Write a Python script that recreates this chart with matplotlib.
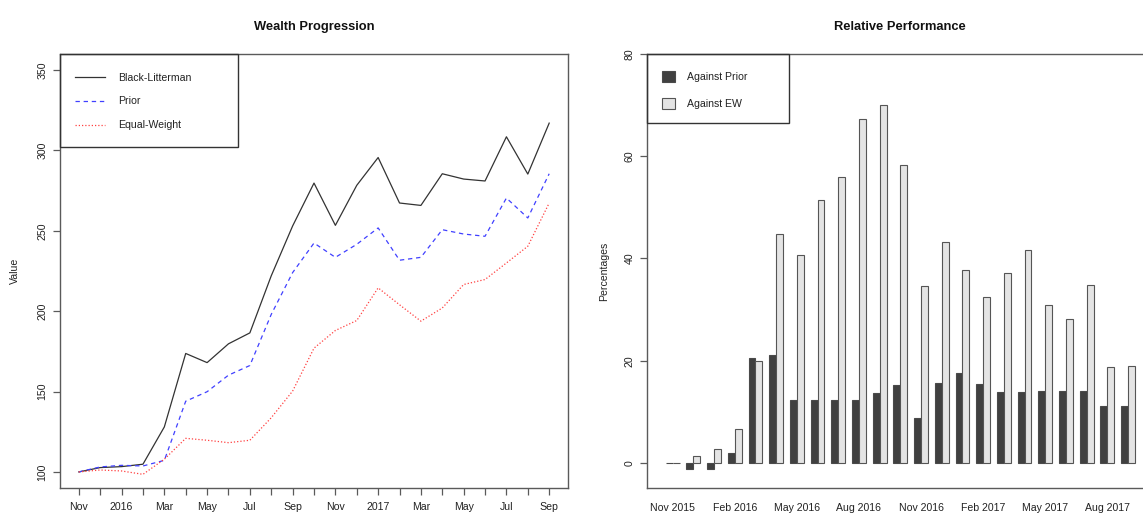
import numpy as np
import matplotlib
matplotlib.use('Agg')
import matplotlib.pyplot as plt
from matplotlib.patches import Rectangle

plt.rcParams['font.family'] = ['Liberation Sans', 'DejaVu Sans']

# monthly wealth, Nov 2015 - Sep 2017
month_labels = ['Nov', '', '2016', '', 'Mar', '', 'May', '', 'Jul', '', 'Sep', '',
                'Nov', '', '2017', '', 'Mar', '', 'May', '', 'Jul', '', 'Sep']
black_litterman = [100, 102.7, 103.3, 104.8, 128, 173.7, 168, 179.7, 186.5, 222, 253,
                   279.7, 253.4, 278.3, 295.6, 267.3, 265.8, 285.5, 282.2, 281, 308.5, 285.3, 317]
prior = [100, 103.1, 104.1, 103.7, 107.2, 144, 149.9, 160.2, 166.2, 198, 224,
         242.4, 233.5, 241.6, 251.8, 231.7, 233.5, 250.7, 248, 246.6, 270.4, 258, 285.5]
equal_weight = [100, 101.2, 100.6, 98.5, 107.9, 120.9, 119.7, 118.2, 119.7, 133.7, 150.3,
                177, 188, 194.2, 214.5, 204, 193.8, 202, 216.6, 219.7, 230, 240.4, 267.3]

# relative performance (%)
bar_labels = ['Nov 2015', '', '', 'Feb 2016', '', '', 'May 2016', '', '', 'Aug 2016', '', '',
              'Nov 2016', '', '', 'Feb 2017', '', '', 'May 2017', '', '', 'Aug 2017', '']
against_prior = [0, -1.1, -1.1, 1.9, 20.5, 21.2, 12.3, 12.3, 12.3, 12.3, 13.6, 15.3,
                 8.8, 15.6, 17.5, 15.5, 13.8, 13.8, 14.0, 14.0, 14.0, 11.2, 11.1]
against_ew = [0, 1.4, 2.7, 6.7, 19.9, 44.8, 40.7, 51.5, 56.0, 67.2, 70.1, 58.3,
              34.6, 43.2, 37.7, 32.4, 37.2, 41.6, 30.9, 28.1, 34.8, 18.8, 19.0]

FS = 7.6
SPINE = '#5a5a5a'
TXT = '#222222'

fig = plt.figure(figsize=(11.43, 5.14), dpi=100)
ax1 = fig.add_axes([60 / 1143, 1 - 488 / 514, 508 / 1143, 434 / 514])
ax2 = fig.add_axes([647 / 1143, 1 - 488 / 514, 506.7 / 1143, 434 / 514])


def style_axes(ax):
    for s in ax.spines.values():
        s.set_color(SPINE)
        s.set_linewidth(1)
    ax.tick_params(colors=SPINE, labelcolor=TXT, labelsize=FS, length=5, width=0.9)
    ax.tick_params(axis='y', labelrotation=90, pad=4)
    for lab in ax.get_yticklabels():
        lab.set_va('center')


# --- Wealth Progression ---
x = np.arange(len(black_litterman))
ax1.plot(x, black_litterman, color='#333333', lw=0.9, label='Black-Litterman')
ax1.plot(x, prior, color='#4040ff', lw=0.9, ls=(0, (3.5, 3)), label='Prior')
ax1.plot(x, equal_weight, color='#ff4040', lw=0.9, ls=(0, (1, 1.6)), label='Equal-Weight')
ax1.set_xlim(-0.88, len(x) - 1 + 0.88)
ax1.set_ylim(90, 360)
ax1.set_yticks([100, 150, 200, 250, 300, 350])
ax1.set_xticks(x)
ax1.set_xticklabels(month_labels)
style_axes(ax1)
ax1.tick_params(axis='x', pad=5)
ax1.set_ylabel('Value', fontsize=FS, color=TXT)
ax1.yaxis.set_label_coords(-0.078, 0.5)
ax1.set_title('Wealth Progression', fontsize=9.3, fontweight='bold', color='#111111', pad=17)
ax1.add_patch(Rectangle((0, 1 - 93 / 434), 178 / 508, 93 / 434, transform=ax1.transAxes,
                        fill=False, edgecolor='#333333', lw=1, clip_on=False, zorder=5))
ax1.legend(loc='upper left', bbox_to_anchor=(0, 1 - 4 / 434), borderaxespad=0, frameon=False,
           fontsize=FS, borderpad=1.4, labelspacing=1.3, handlelength=2.85,
           handletextpad=1.3, labelcolor=TXT)

# --- Relative Performance ---
g = np.arange(len(against_prior))
ax2.bar(1 + 3 * g, against_prior, width=1, align='edge', color='#404040',
        edgecolor='#4a4a4a', lw=0.8, label='Against Prior')
ax2.bar(2 + 3 * g, against_ew, width=1, align='edge', color='#e4e4e4',
        edgecolor='#555555', lw=0.8, label='Against EW')
ax2.set_xlim(-1.72, 71.72)
ax2.set_ylim(-4.9, 80)
ax2.set_yticks([0, 20, 40, 60, 80])
ax2.set_xticks(2 + 3 * g)
ax2.set_xticklabels(bar_labels)
style_axes(ax2)
ax2.tick_params(axis='x', length=0, pad=11)
ax2.set_ylabel('Percentages', fontsize=FS, color=TXT)
ax2.yaxis.set_label_coords(-0.074, 0.5)
ax2.set_title('Relative Performance', fontsize=9.3, fontweight='bold', color='#111111', pad=17)
ax2.add_patch(Rectangle((0, 1 - 69.3 / 434), 142 / 506.7, 69.3 / 434, transform=ax2.transAxes,
                        fill=False, edgecolor='#333333', lw=1, clip_on=False, zorder=5))
ax2.legend(loc='upper left', bbox_to_anchor=(0, 1 - 2 / 434), borderaxespad=0, frameon=False,
           fontsize=FS, borderpad=1.4, labelspacing=1.55, handlelength=1.23,
           handleheight=1.2, handletextpad=1.2, labelcolor=TXT)

plt.savefig('out.png', dpi=100)
